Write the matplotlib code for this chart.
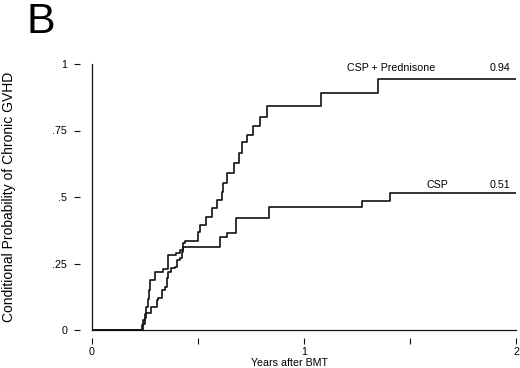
import numpy as np
import matplotlib
matplotlib.use('Agg')
import matplotlib.pyplot as plt

plt.rcParams['font.family'] = ['Liberation Sans', 'DejaVu Sans']

# CSP alone: step times (years) and conditional probability after each step
csp_t = [0.234, 0.241, 0.248, 0.255, 0.262, 0.267, 0.274, 0.297, 0.335, 0.360,
         0.396, 0.415, 0.431, 0.604, 0.639, 0.679, 0.836, 1.272, 1.406]
csp_p = [0.019, 0.038, 0.060, 0.086, 0.117, 0.150, 0.188, 0.219, 0.228, 0.282,
         0.291, 0.301, 0.311, 0.351, 0.364, 0.420, 0.464, 0.486, 0.514]

# CSP + Prednisone
pred_t = [0.242, 0.250, 0.255, 0.277, 0.305, 0.313, 0.329, 0.344, 0.352, 0.360,
          0.373, 0.392, 0.400, 0.415, 0.423, 0.431, 0.439, 0.501, 0.509, 0.538,
          0.566, 0.588, 0.612, 0.619, 0.635, 0.670, 0.695, 0.709, 0.730, 0.761,
          0.792, 0.824, 1.079, 1.349]
pred_p = [0.023, 0.045, 0.064, 0.088, 0.113, 0.119, 0.150, 0.163, 0.194, 0.219,
          0.232, 0.238, 0.263, 0.270, 0.294, 0.326, 0.336, 0.370, 0.395, 0.426,
          0.458, 0.489, 0.520, 0.552, 0.589, 0.628, 0.665, 0.708, 0.733, 0.768,
          0.802, 0.842, 0.892, 0.945]

y_ticks = [0, 0.25, 0.5, 0.75, 1]
y_labels = ['0', '.25', '.5', '.75', '1']
x_ticks = [0, 0.5, 1, 1.5, 2]
x_labels = ['0', '', '1', '', '2']

fig = plt.figure(figsize=(5.2, 3.68), dpi=100)
ax = fig.add_axes([92 / 520, 1 - 330 / 368, 424 / 520, 266 / 368])

col = '#111111'
for t, p in [(csp_t, csp_p), (pred_t, pred_p)]:
    xs = np.concatenate([[0], t, [2]])
    ys = np.concatenate([[0], p, [p[-1]]])
    ax.step(xs, ys, where='post', color=col, lw=1.2)

ax.set_xlim(0, 2)
ax.set_ylim(0, 1)

# offset ticks, real axis lines drawn at the data origin
for s in ['top', 'right']:
    ax.spines[s].set_visible(False)
ax.spines['left'].set_position(('outward', 8.5))
ax.spines['bottom'].set_position(('outward', 6))
ax.spines['left'].set_color('none')
ax.spines['bottom'].set_color('none')
ax.plot([0, 0], [0, 1], color=col, lw=0.9, clip_on=False)
ax.plot([0, 2], [0, 0], color=col, lw=0.9, clip_on=False)

ax.set_yticks(y_ticks)
ax.set_yticklabels(y_labels)
ax.set_xticks(x_ticks)
ax.set_xticklabels(x_labels)
ax.tick_params(axis='y', length=4.5, width=0.8, pad=5, labelsize=7.7, color=col)
ax.tick_params(axis='x', length=4.5, width=0.8, pad=2, labelsize=7.7, color=col)

ax.set_xlabel('Years after BMT', fontsize=7.7)
ax.xaxis.set_label_coords(0.465, -0.105)
ax.set_ylabel('Conditional Probability of Chronic GVHD', fontsize=10)
ax.yaxis.set_label_coords(-0.18, 0.5)

ax.text(1.413, 0.984, 'CSP + Prednisone', fontsize=7.7, ha='center', va='center')
ax.text(1.975, 0.984, '0.94', fontsize=7.7, ha='right', va='center')
ax.text(1.627, 0.545, 'CSP', fontsize=7.7, ha='center', va='center')
ax.text(1.975, 0.545, '0.51', fontsize=7.7, ha='right', va='center')

fig.text(27 / 520, 1 - 33 / 368, 'B', fontsize=31, ha='left', va='baseline')

fig.savefig('out.png', dpi=100)
